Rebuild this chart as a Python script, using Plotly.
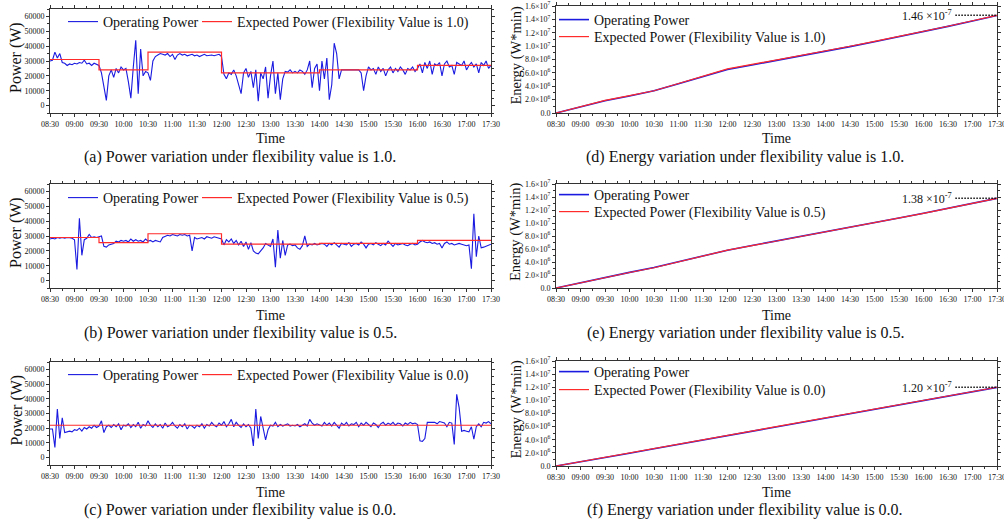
import plotly.graph_objects as go
import pandas as pd

DAY = "2000-01-01 "
power_time = pd.date_range(DAY + "08:30", DAY + "17:30", freq="3min")     # 181 samples
energy_time = pd.date_range(DAY + "08:30", DAY + "17:30", freq="30min")   # 19 samples

flex_values = ["1.0", "0.5", "0.0"]

# ---------------- Operating power (W), every 3 minutes from 08:30 ----------------
op_power_10 = [
    30000, 30500, 36000, 32000, 35000, 29000, 28500, 27000, 28000, 27500,
    28500, 28000, 29000, 28500, 30500, 28000, 28500, 27000, 28500, 27500,
    27000, 22000, 12000, 3500, 20000, 24000, 19000, 25000, 22000, 26000,
    24000, 25000, 16000, 5000, 26000, 44000, 8000, 38000, 20000, 23000,
    22000, 17000, 30000, 33000, 34000,
    35000, 34500, 34000, 35000, 33000, 34500, 31000, 34000, 35000, 34000,
    34500, 33500, 34000, 34500, 33500, 34000, 33000, 34000, 34500, 33500,
    34000, 34000, 33500, 34000, 34500,
    33000, 21000, 18000, 22000, 21000, 24000, 20000, 13000, 8000, 22000,
    25000, 19000, 23000, 12000, 24000, 3000, 22000, 18000, 26000, 5000,
    20000, 30000, 8000, 22000, 4000, 18000, 23000, 22500, 24000, 22000,
    23000, 22000, 24000, 23000, 21000, 24000, 30000, 12000, 25000, 28000,
    10000, 30000, 18000, 32000, 4000, 14000, 42000, 35000, 18000, 24000,
    24000, 24000, 24000, 24000, 24000, 24000, 24000, 22000, 10000, 20000,
    26000,
    24000, 25000, 21000, 26000, 23000, 25000, 20000, 24000, 26000, 22000,
    25000, 23000, 26000, 24000, 21000, 25000, 24000, 26000, 23000, 25000,
    28000, 22000, 29000, 25000, 30000, 21000, 28000, 27000, 29000, 20000,
    28000, 30000, 26000, 27000, 21000, 29000, 28000, 27000, 30000, 24000,
    27000, 29000, 26000, 28000, 22000, 29000, 27000, 30000, 25000, 27000,
]
op_power_05 = [
    28000, 28500, 28000, 29000, 28500, 29000, 28500, 29000, 28800, 28500,
    27500, 7500, 42000, 17000, 27500, 28500, 31000, 29000, 29500, 29000,
    29500, 30000, 23000, 22500, 24000, 24500, 25000, 26500, 26000, 27000,
    26500, 27000, 26000, 28000, 26500, 27500, 26500, 27000, 26000, 28000,
    26500, 27000, 26000, 27000, 26500, 26000, 29000, 30000, 30500, 30000,
    31000, 30500, 30000, 31000, 30500, 31000, 30000, 30500, 20000, 29000,
    28000, 28500, 29000, 28000, 29500, 29000, 28500, 29500, 29000, 28500,
    28000, 24000, 27500, 26000, 28000, 25000, 27000, 24000, 26500, 23000,
    26000, 21000, 25500, 20000, 18500, 18000, 20000, 22000, 25000, 24000,
    23000, 28000, 9000, 34000, 15000, 27000, 17000, 24000, 24500, 23500,
    24000, 22000, 21000, 23500, 30000, 23000, 24500, 24000, 25000, 24000,
    24500,
    25000, 24500, 23000, 25000, 24000, 25500, 24000, 22500, 25000, 24500,
    24000, 25500, 23000, 24500, 25000, 24000, 26000, 24500, 22000, 24500,
    25000, 24000, 25500, 24500, 23500, 25000, 24000, 26500, 24500, 23000,
    25000, 24000, 24500, 25000, 24000, 23500, 24500, 25000, 24000, 24500,
    26000, 27000, 26000, 25500, 26000, 25000, 25500, 24500, 25000, 22000,
    25000, 26000, 24500, 25000, 24000, 24500, 25000, 24500, 24000, 23500,
    24000, 8000, 45000, 16000, 30000, 22000, 22500, 23000, 24000, 24500,
]
op_power_00 = [
    19500, 19500, 7000, 33000, 13000, 27000, 17000, 17500, 18000, 17500,
    19000, 18500, 20000, 18000, 20500, 19500, 21000, 20000, 22000, 20500,
    21500, 25000, 17000, 21000, 22000, 20500, 22500, 21000, 23000, 19000,
    22000, 21500, 23000, 20500, 22500, 21000, 24000, 20000, 22500, 21500,
    25000, 22000, 20500, 23000, 21000, 22500, 20000, 23500, 21000, 22000,
    24000, 21500, 20000, 22500, 21000, 23000, 19500, 22000, 21500, 20000,
    22000, 21000, 23000, 20000, 22500, 21500, 24000, 22000, 21000, 23500,
    22000, 24500, 21000, 23000, 26000, 21000, 24000, 22000, 20500, 23000,
    21000, 22500, 20000, 8000, 33000, 13000, 28000, 20000, 12000, 19000,
    22000, 21500, 24000, 21000, 22500, 21500, 22000, 23000, 21500, 22000,
    21500, 22500, 21000, 22000, 23000, 21500, 26000, 23500, 22000, 23000,
    22500, 21500, 24000, 22000, 23500, 21500, 24000, 22000, 20000, 23500,
    22000, 24000, 21500, 23000, 22500, 24000, 21000, 23500, 22000, 24000,
    22500, 21000, 23500, 22500, 20500, 23000, 24000, 22000, 23500, 22500,
    24000, 22000, 23500, 23000, 21500, 23500, 22500, 24000, 23000, 23500,
    22500, 11500, 11000, 13000, 24000, 24000, 23500, 24000, 23000, 24500,
    24000, 23500, 21000, 24000, 23500, 9000, 43000, 34000, 18000, 18500,
    18000, 17500, 21000, 12500, 21000, 23000, 21000, 24000, 23500, 24500,
    23000,
]

# ---------------- Expected power (W), step values ----------------
exp_step_times_10 = ["08:30", "09:30", "10:30", "12:00", "14:00", "16:00", "17:30"]
exp_power_10 = [31000, 24000, 36000, 22000, 24000, 27000, 27000]
exp_step_times_05 = ["08:30", "09:30", "10:30", "12:00", "14:00", "16:00", "17:30"]
exp_power_05 = [29000, 25500, 31500, 24500, 25000, 27000, 27000]
exp_step_times_00 = ["08:30", "17:30"]
exp_power_00 = [22000, 22000]

# ---------------- Energy (W*min), every 30 minutes from 08:30 ----------------
op_energy_10 = [0, 0.93e6, 1.82e6, 2.55e6, 3.33e6, 4.38e6, 5.42e6, 6.50e6, 7.18e6, 7.85e6,
                8.51e6, 9.20e6, 9.93e6, 10.66e6, 11.40e6, 12.13e6, 12.95e6, 13.77e6, 14.58e6]
exp_energy_10 = [0, 0.94e6, 1.88e6, 2.60e6, 3.33e6, 4.41e6, 5.50e6, 6.59e6, 7.26e6, 7.92e6,
                 8.59e6, 9.25e6, 9.98e6, 10.71e6, 11.43e6, 12.16e6, 12.97e6, 13.79e6, 14.60e6]
op_energy_05 = [0, 0.82e6, 1.64e6, 2.40e6, 3.15e6, 4.04e6, 4.93e6, 5.82e6, 6.53e6, 7.22e6,
                7.93e6, 8.63e6, 9.35e6, 10.06e6, 10.78e6, 11.49e6, 12.26e6, 13.02e6, 13.79e6]
exp_energy_05 = [0, 0.83e6, 1.66e6, 2.39e6, 3.12e6, 4.02e6, 4.92e6, 5.82e6, 6.52e6, 7.22e6,
                 7.92e6, 8.62e6, 9.34e6, 10.05e6, 10.77e6, 11.48e6, 12.25e6, 13.02e6, 13.80e6]
op_energy_00 = [0, 0.62e6, 1.27e6, 1.94e6, 2.62e6, 3.29e6, 3.96e6, 4.63e6, 5.31e6, 5.97e6,
                6.64e6, 7.31e6, 7.99e6, 8.66e6, 9.33e6, 9.99e6, 10.65e6, 11.32e6, 11.98e6]
exp_energy_00 = [0, 0.67e6, 1.33e6, 2.00e6, 2.67e6, 3.33e6, 4.00e6, 4.67e6, 5.33e6, 6.00e6,
                 6.67e6, 7.33e6, 8.00e6, 8.67e6, 9.33e6, 10.00e6, 10.67e6, 11.33e6, 12.00e6]

final_labels = ["1.46 ×10<sup>-7</sup>", "1.38 ×10<sup>-7</sup>", "1.20 ×10<sup>-7</sup>"]
label_line_start = "16:39"

power_ticks = [0, 10000, 20000, 30000, 40000, 50000, 60000]
energy_ticks = [0, 2e6, 4e6, 6e6, 8e6, 10e6, 12e6, 14e6, 16e6]
energy_tick_text = ["0.0", "2.0×10<sup>6</sup>", "4.0×10<sup>6</sup>", "6.0×10<sup>6</sup>",
                    "8.0×10<sup>6</sup>", "1.0×10<sup>7</sup>", "1.2×10<sup>7</sup>",
                    "1.4×10<sup>7</sup>", "1.6×10<sup>7</sup>"]

captions_power = ["(a) Power variation under flexibility value is 1.0.",
                  "(b) Power variation under flexibility value is 0.5.",
                  "(c) Power variation under flexibility value is 0.0."]
captions_energy = ["(d) Energy variation under flexibility value is 1.0.",
                   "(e) Energy variation under flexibility value is 0.5.",
                   "(f) Energy variation under flexibility value is 0.0."]

assert len(op_power_10) == len(op_power_05) == len(op_power_00) == len(power_time)

# ---------------- Layout geometry (pixels) ----------------
W, H = 1004, 521
FONT = "Liberation Serif"
BLUE = "#1a1ae0"
RED = "#ff2a2a"


def px_x(p):
    return p / W


def px_y(p):
    return 1 - p / H


left_x = [px_x(50), px_x(491)]
right_x = [px_x(556), px_x(997)]
rows_power = [(9, 113), (184, 288), (362, 465)]
rows_energy = [(6, 113), (184, 288), (361, 466)]
time_label_y = [138, 315, 492]
caption_y = [157, 333, 510]
power_legend_y = [22, 198, 375]
energy_legend_y = [(20, 37), (195, 212), (372, 390)]

fig = go.Figure()

op_powers = [op_power_10, op_power_05, op_power_00]
exp_times = [exp_step_times_10, exp_step_times_05, exp_step_times_00]
exp_powers = [exp_power_10, exp_power_05, exp_power_00]
op_energies = [op_energy_10, op_energy_05, op_energy_00]
exp_energies = [exp_energy_10, exp_energy_05, exp_energy_00]

layout = {}
annotations = []
shapes = []
legend_count = [0]


def new_legend(x_px, y_px):
    legend_count[0] += 1
    n = legend_count[0]
    name = "legend" if n == 1 else "legend%d" % n
    layout[name] = dict(x=px_x(x_px), y=px_y(y_px), xanchor="left", yanchor="middle",
                        bgcolor="rgba(0,0,0,0)", borderwidth=0,
                        font=dict(family=FONT, size=14, color="#111"))
    return name


axis_common = dict(showline=True, linecolor="#333", linewidth=1, mirror="allticks",
                   ticks="outside", ticklen=3, tickcolor="#333", showgrid=False,
                   zeroline=False, automargin=False, ticklabeloverflow="allow",
                   tickfont=dict(family=FONT, size=8, color="#111"))

for i in range(3):
    pa = i + 1
    ea = i + 4
    pa_s = "" if pa == 1 else str(pa)
    ea_s = str(ea)

    fig.add_trace(go.Scatter(x=power_time, y=op_powers[i], mode="lines",
                             line=dict(color=BLUE, width=1.1), name="Operating Power",
                             xaxis="x" + pa_s, yaxis="y" + pa_s, showlegend=True,
                             legend=new_legend(63, power_legend_y[i])))
    fig.add_trace(go.Scatter(x=[DAY + t for t in exp_times[i]], y=exp_powers[i], mode="lines",
                             line=dict(color=RED, width=1.2, shape="hv"),
                             name="Expected Power (Flexibility Value is %s)" % flex_values[i],
                             xaxis="x" + pa_s, yaxis="y" + pa_s, showlegend=True,
                             legend=new_legend(197, power_legend_y[i])))
    fig.add_trace(go.Scatter(x=energy_time, y=op_energies[i], mode="lines",
                             line=dict(color=BLUE, width=1.6), name="Operating Power",
                             xaxis="x" + ea_s, yaxis="y" + ea_s, showlegend=True,
                             legend=new_legend(554, energy_legend_y[i][0])))
    fig.add_trace(go.Scatter(x=energy_time, y=exp_energies[i], mode="lines",
                             line=dict(color=RED, width=1.2),
                             name="Expected Power (Flexibility Value is %s)" % flex_values[i],
                             xaxis="x" + ea_s, yaxis="y" + ea_s, showlegend=True,
                             legend=new_legend(554, energy_legend_y[i][1])))

    xcommon = dict(axis_common, type="date", range=[energy_time[0], energy_time[-1]],
                   tickmode="linear", tick0=energy_time[0], dtick=30 * 60 * 1000,
                   tickformat="%H:%M",
                   minor=dict(ticks="outside", ticklen=2, dtick=15 * 60 * 1000,
                              tick0=energy_time[0], tickcolor="#333"))
    pt, pb = rows_power[i]
    et, eb = rows_energy[i]
    layout["xaxis" + pa_s] = dict(xcommon, domain=left_x, anchor="y" + pa_s)
    layout["yaxis" + pa_s] = dict(axis_common, domain=[px_y(pb), px_y(pt)], anchor="x" + pa_s,
                                  range=[-5000, 65000], tickmode="array", tickvals=power_ticks,
                                  tickformat="d",
                                  minor=dict(ticks="outside", ticklen=2, dtick=5000,
                                             tickcolor="#333"))
    layout["xaxis" + ea_s] = dict(xcommon, domain=right_x, anchor="y" + ea_s)
    layout["yaxis" + ea_s] = dict(axis_common, domain=[px_y(eb), px_y(et)], anchor="x" + ea_s,
                                  range=[0, 1.6e7], tickmode="array", tickvals=energy_ticks,
                                  ticktext=energy_tick_text,
                                  minor=dict(ticks="outside", ticklen=2, dtick=1e6,
                                             tickcolor="#333"))

    # y-axis titles
    annotations.append(dict(text="Power (W)", textangle=-90, x=px_x(16), y=px_y((pt + pb) / 2 - 3),
                            xref="paper", yref="paper", showarrow=False,
                            xanchor="center", yanchor="middle",
                            font=dict(family=FONT, size=16, color="#111")))
    annotations.append(dict(text="Energy (W*min)", textangle=-90, x=px_x(516),
                            y=px_y((et + eb) / 2 - 4),
                            xref="paper", yref="paper", showarrow=False,
                            xanchor="center", yanchor="middle",
                            font=dict(family=FONT, size=14.5, color="#111")))
    # x-axis titles
    for cx in (270.5, 776.5):
        annotations.append(dict(text="Time", x=px_x(cx), y=px_y(time_label_y[i]),
                                xref="paper", yref="paper", showarrow=False,
                                xanchor="center", yanchor="middle",
                                font=dict(family=FONT, size=14, color="#111")))
    # captions
    annotations.append(dict(text=captions_power[i], x=px_x(240), y=px_y(caption_y[i]),
                            xref="paper", yref="paper", showarrow=False,
                            xanchor="center", yanchor="middle",
                            font=dict(family=FONT, size=16, color="#111")))
    annotations.append(dict(text=captions_energy[i], x=px_x(745), y=px_y(caption_y[i]),
                            xref="paper", yref="paper", showarrow=False,
                            xanchor="center", yanchor="middle",
                            font=dict(family=FONT, size=16, color="#111")))
    # final energy value marker
    final_val = exp_energies[i][-1]
    shapes.append(dict(type="line", xref="x" + ea_s, yref="y" + ea_s,
                       x0=DAY + label_line_start, x1=energy_time[-1], y0=final_val, y1=final_val,
                       line=dict(color="#111", width=1.5, dash="1.5px,1.5px")))
    annotations.append(dict(text=final_labels[i], x=DAY + label_line_start, y=final_val,
                            xref="x" + ea_s, yref="y" + ea_s, xanchor="right", yanchor="middle",
                            showarrow=False, xshift=-1,
                            font=dict(family=FONT, size=12, color="#111")))

fig.update_layout(width=W, height=H, showlegend=True,
                  margin=dict(l=0, r=0, t=0, b=0, autoexpand=False),
                  paper_bgcolor="white", plot_bgcolor="white",
                  annotations=annotations, shapes=shapes, **layout)

fig.write_html("out.html", config={"displayModeBar": False},
               post_script="document.body.style.margin='0';document.body.style.padding='0';")
